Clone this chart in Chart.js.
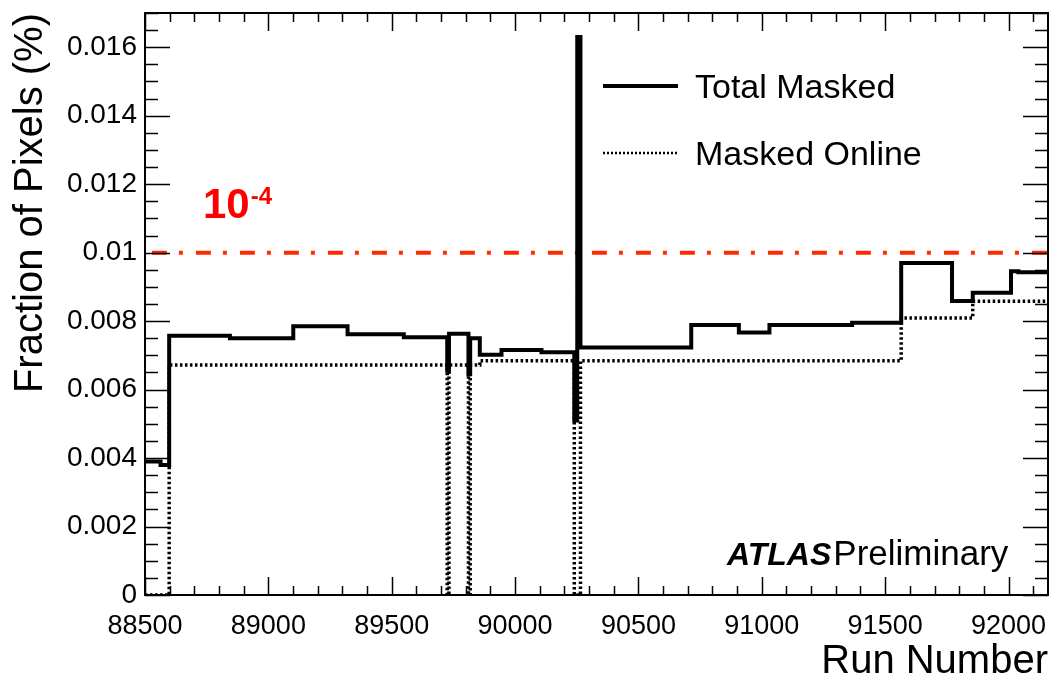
<!DOCTYPE html>
<html><head><meta charset="utf-8">
<script src="https://cdn.jsdelivr.net/npm/chart.js@4.4.1/dist/chart.umd.min.js"></script>
<style>html,body{margin:0;padding:0;background:#fff}#wrap{width:1052px;height:687px;position:relative}</style>
</head><body><div id="wrap"><canvas id="c" width="1052" height="687"></canvas></div>
<script>
// ---- data ----
const runMin = 88500;
const runMax = 92160;
const totalEdges  = [88500, 88563, 88598, 88844, 89101, 89321, 89549, 89725, 89732, 89811, 89818, 89857, 89945, 90107, 90240, 90252, 90265, 90714, 90907, 91031, 91366, 91565, 91771, 91855, 92010, 92040];
const totalValues = [0.0039, 0.0038, 0.00757, 0.0075, 0.00785, 0.00762, 0.00753, 0.00655, 0.00763, 0.00645, 0.0075, 0.00702, 0.00716, 0.00709, 0.0051, 0.0163, 0.00723, 0.00789, 0.00767, 0.00789, 0.00795, 0.0097, 0.00859, 0.00883, 0.00946, 0.00943];
const onlineEdges  = [88500, 88598, 89725, 89732, 89811, 89818, 89857, 90240, 90265, 91565, 91855];
const onlineValues = [0, 0.00672, 0, 0.00672, 0, 0.00672, 0.00684, 0, 0.00684, 0.00809, 0.00858];
const thresholdValue = 0.01;
const thresholdRuns = [88528, 92160];
const seriesNames = ['Total Masked', 'Masked Online'];
const xTickLabels = [88500, 89000, 89500, 90000, 90500, 91000, 91500, 92000];
const yTickLabels = [0, 0.002, 0.004, 0.006, 0.008, 0.01, 0.012, 0.014, 0.016];
const xTickStep = 500, xMinorStep = 100;
const yMin = 0, yMax = 0.017, yTickStep = 0.002, yMinorStep = 0.0005;
const thresholdLabel = {x: 88735, y: 0.011, base: '10', exp: '-4'};

const FONT = "'Liberation Sans', Arial, Helvetica, sans-serif";

function histPoints(edges, vals, end) {
  const pts = edges.map((e, i) => ({x: e, y: vals[i]}));
  pts.push({x: end, y: vals[vals.length - 1]});
  return pts;
}

const decorPlugin = {
  id: 'decor',
  afterDraw(chart) {
    const ctx = chart.ctx;
    const a = chart.chartArea;
    const xs = chart.scales.x, ys = chart.scales.y;
    ctx.save();
    // inner ticks
    ctx.strokeStyle = '#000';
    ctx.lineWidth = 1.5;
    ctx.beginPath();
    for (let v = Math.ceil(runMin / xMinorStep) * xMinorStep; v <= runMax; v += xMinorStep) {
      const px = Math.round(xs.getPixelForValue(v)) + 0.5;
      const len = (v % xTickStep === 0) ? 18 : 9;
      ctx.moveTo(px, a.bottom); ctx.lineTo(px, a.bottom - len);
      ctx.moveTo(px, a.top); ctx.lineTo(px, a.top + len);
    }
    const nMinor = Math.round((yMax - yMin) / yMinorStep);
    const ratio = Math.round(yTickStep / yMinorStep);
    for (let i = 0; i <= nMinor; i++) {
      const v = yMin + i * yMinorStep;
      const py = Math.round(ys.getPixelForValue(v)) + 0.5;
      const len = (i % ratio === 0) ? 25 : 13;
      ctx.moveTo(a.left, py); ctx.lineTo(a.left + len, py);
      ctx.moveTo(a.right, py); ctx.lineTo(a.right - len, py);
    }
    ctx.stroke();
    // frame
    ctx.lineWidth = 2;
    ctx.strokeRect(a.left, a.top, a.right - a.left, a.bottom - a.top);

    // threshold label 10^-4
    ctx.fillStyle = '#ff0000';
    ctx.textBaseline = 'alphabetic';
    ctx.textAlign = 'left';
    const lx = xs.getPixelForValue(thresholdLabel.x);
    const ly = ys.getPixelForValue(thresholdLabel.y);
    ctx.font = "bold 42px " + FONT;
    ctx.fillText(thresholdLabel.base, lx, ly);
    const bw = ctx.measureText(thresholdLabel.base).width;
    ctx.font = "bold 24px " + FONT;
    ctx.fillText(thresholdLabel.exp, lx + bw + 1, ly - 14);

    // legend
    const ds = chart.data.datasets;
    const legX = a.left + 458, legW = 75;
    const rows = [{i: 0, y: a.top + 73}, {i: 1, y: a.top + 140}];
    ctx.font = "34px " + FONT;
    ctx.textBaseline = 'middle';
    ctx.fillStyle = '#000';
    rows.forEach(r => {
      const d = ds[r.i];
      ctx.beginPath();
      ctx.strokeStyle = d.borderColor;
      ctx.lineWidth = r.i === 0 ? 4 : 2.5;
      ctx.setLineDash(r.i === 0 ? [] : [2, 2]);
      ctx.moveTo(legX, r.y); ctx.lineTo(legX + legW, r.y);
      ctx.stroke();
      ctx.setLineDash([]);
      ctx.fillText(d.label, legX + legW + 17, r.y + 3);
    });

    // ATLAS Preliminary
    ctx.textBaseline = 'alphabetic';
    ctx.font = "italic bold 32px " + FONT;
    const ax = a.left + 582, ay = a.bottom - 30;
    ctx.fillText('ATLAS', ax, ay);
    const aw = ctx.measureText('ATLAS').width;
    ctx.font = "35px " + FONT;
    ctx.fillText('Preliminary', ax + aw + 2, ay);
    ctx.restore();
  }
};

function noPad(s) { s.paddingTop = 0; s.paddingBottom = 0; s.paddingLeft = 0; s.paddingRight = 0; }

new Chart(document.getElementById('c'), {
  type: 'line',
  data: {
    datasets: [
      {
        label: seriesNames[0],
        data: histPoints(totalEdges, totalValues, runMax),
        borderColor: '#000', borderWidth: 4, stepped: 'before',
        pointRadius: 0, borderJoinStyle: 'miter', borderCapStyle: 'butt', order: 0, fill: false
      },
      {
        label: seriesNames[1],
        data: histPoints(onlineEdges, onlineValues, runMax),
        borderColor: '#000', borderWidth: 3.5, borderDash: [2.5, 2.5], stepped: 'before',
        pointRadius: 0, borderJoinStyle: 'miter', borderCapStyle: 'butt', order: 1, fill: false
      },
      {
        label: 'threshold',
        data: thresholdRuns.map(r => ({x: r, y: thresholdValue})),
        borderColor: '#ff2a00', borderWidth: 4, borderDash: [15, 12, 4, 13],
        pointRadius: 0, order: 2, fill: false
      }
    ]
  },
  options: {
    responsive: false,
    animation: false,
    devicePixelRatio: 1,
    layout: {padding: {top: 13, right: 4, left: 0, bottom: 0}},
    plugins: {legend: {display: false}, tooltip: {enabled: false}},
    scales: {
      x: {
        type: 'linear', min: runMin, max: runMax,
        grid: {display: false, drawTicks: false}, border: {display: false},
        afterBuildTicks: s => { s.ticks = xTickLabels.map(v => ({value: v})); },
        ticks: {autoSkip: false, padding: 15, color: '#000', maxRotation: 0,
          font: {family: FONT, size: 27}, callback: v => String(v)},
        title: {display: true, text: 'Run Number', align: 'end', color: '#000',
          font: {family: FONT, size: 40}, padding: {top: 0, bottom: 1}},
        afterFit: s => { s.height = 92; noPad(s); }
      },
      y: {
        type: 'linear', min: yMin, max: yMax,
        grid: {display: false, drawTicks: false}, border: {display: false},
        afterBuildTicks: s => { s.ticks = yTickLabels.map(v => ({value: v})); },
        ticks: {autoSkip: false, padding: 8, color: '#000',
          font: {family: FONT, size: 28}, callback: v => String(parseFloat(Number(v).toFixed(4)))},
        title: {display: true, text: 'Fraction of Pixels (%)', align: 'end', color: '#000',
          font: {family: FONT, size: 40}, padding: {top: 7, bottom: 0}},
        afterFit: s => { s.width = 145; noPad(s); }
      }
    }
  },
  plugins: [decorPlugin]
});
</script>
</body></html>
